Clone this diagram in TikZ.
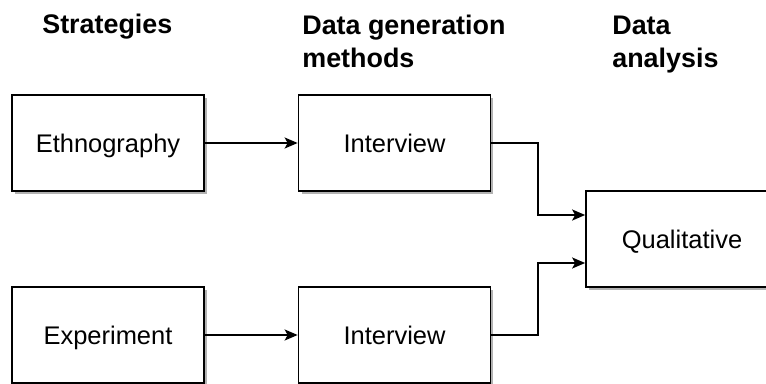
\documentclass[tikz,border=0pt]{standalone}
\usepackage{fontspec}
\setmainfont{Liberation Sans}
\usetikzlibrary{arrows.meta,shadows}

\begin{document}
\begin{tikzpicture}[x=0.02cm,y=-0.02cm,hdr/.style={font=\bfseries\fontsize{15.3}{18.7}\selectfont, align=left, anchor=base west, inner sep=0pt}]
\tikzstyle{blk}=[draw, line width=1pt, fill=white, minimum width=3.84cm, minimum height=1.92cm, text depth=0pt, font=\fontsize{14.5}{17}\selectfont, drop shadow={shadow xshift=0.06cm, shadow yshift=-0.06cm, fill=black!30, opacity=1}]
\tikzstyle{arr}=[line width=1pt, -{Stealth[length=0.26cm,width=0.22cm,inset=0.06cm]}]
\useasboundingbox (0,0) rectangle (766,383);
\clip (0,0) rectangle (766,383);
% column headings
\node[hdr] (h1) at (42,33){Strategies};
\node[hdr] (h2) at (302,67){Data generation\\methods};
\node[hdr] (h3) at (612,67){Data\\analysis};
% boxes
\node[blk] (ethno) at (108,143){Ethnography};
\node[blk] (int1) at (394.5,143){Interview};
\node[blk] (expt) at (108,335){Experiment};
\node[blk] (int2) at (394.5,335){Interview};
\node[blk] (qual) at (682,239){Qualitative};
% connectors
\draw[arr] (ethno) -- (int1);
\draw[arr] (expt) -- (int2);
\draw[arr] (int1.east) -- ++(47,0) |- ([yshift=0.48cm]qual.west);
\draw[arr] (int2.east) -- ++(47,0) |- ([yshift=-0.48cm]qual.west);
\end{tikzpicture}
\end{document}
